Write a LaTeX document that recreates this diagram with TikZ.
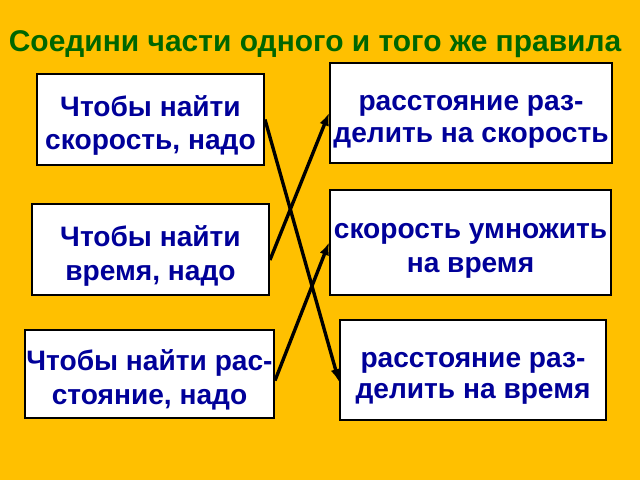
\documentclass[tikz,border=0pt]{standalone}
\usepackage{fontspec}
\setmainfont{Liberation Sans}
\usetikzlibrary{arrows.meta,positioning}
\definecolor{amber}{RGB}{255,192,0}
\definecolor{darkgreen}{RGB}{0,102,0}
\definecolor{navyblue}{RGB}{0,0,153}

\begin{document}
\begin{tikzpicture}[x=0.025cm,y=-0.025cm,
    card/.style={draw=black, line width=1.4pt, fill=white, inner sep=0pt},
    cardtext/.style={text=navyblue, align=center, inner sep=0pt,
        font=\bfseries\fontsize{20}{24}\selectfont},
    link/.style={-{Latex[length=9pt,width=7pt]}, line width=2.4pt}]

        \fill[amber] (0,0) rectangle (640,480);

        \node[text=darkgreen, font=\bfseries\fontsize{21.3}{25}\selectfont] (title) at (315,44) {Соедини части одного и того же правила};

        % left column
        \node[card, minimum width=227*0.025cm, minimum height=91*0.025cm,
            label={[cardtext, yshift=-4.3pt]center:{Чтобы найти\\скорость, надо}}] (speed) at (150.5,119.5) {};
        \node[card, minimum width=237*0.025cm, minimum height=91*0.025cm,
            label={[cardtext, yshift=-4.5pt]center:{Чтобы найти\\время, надо}}] (time) at (150.5,249.5) {};
        \node[card, minimum width=249*0.025cm, minimum height=88*0.025cm,
            label={[cardtext, yshift=-4pt]center:{Чтобы найти рас-\\стояние, надо}}] (dist) at (149.5,374) {};

        % right column
        \node[card, minimum width=282*0.025cm, minimum height=100*0.025cm,
            label={[cardtext, yshift=-6.5pt, font=\bfseries\fontsize{20}{23}\selectfont]center:{расстояние раз-\\делить на скорость}}] (divspeed) at (471,113) {};
        \node[card, minimum width=281*0.025cm, minimum height=105*0.025cm,
            label={[cardtext, yshift=-5.8pt]center:{скорость умножить\\на время}}] (mult) at (470.5,242.5) {};
        \node[card, minimum width=266*0.025cm, minimum height=100*0.025cm,
            label={[cardtext, yshift=-6pt, font=\bfseries\fontsize{20}{22.5}\selectfont]center:{расстояние раз-\\делить на время}}] (divtime) at (473,370) {};

        \draw[link] (speed.east) -- (divtime.185);
        \draw[link] (time.355) -- (divspeed.west);
        \draw[link] (dist.357) -- (mult.west);

\end{tikzpicture}
\end{document}
